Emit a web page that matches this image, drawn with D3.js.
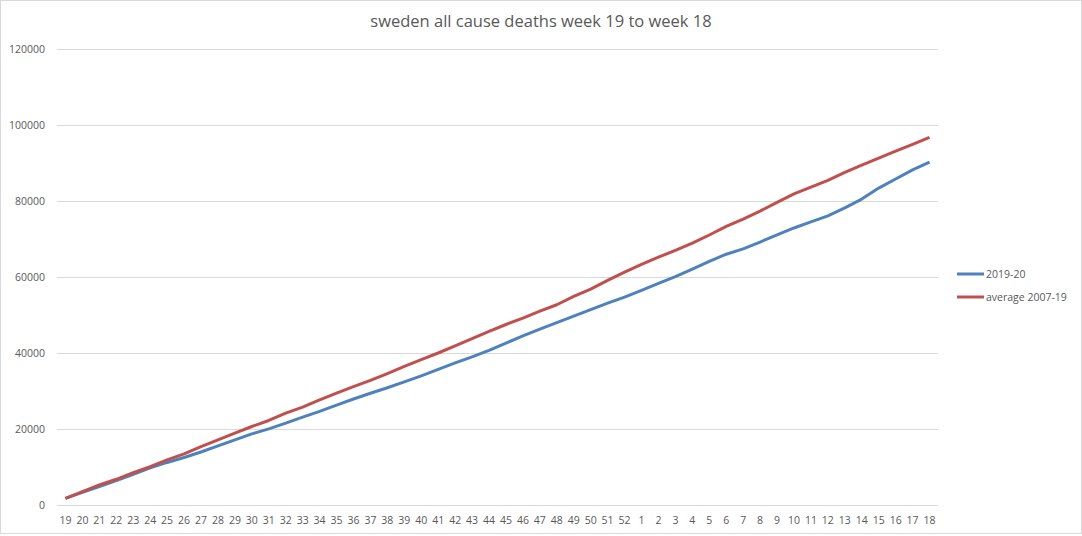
<!DOCTYPE html>
<html>
<head>
<meta charset="utf-8">
<script src="https://cdn.jsdelivr.net/npm/d3@7"></script>
<style>
  body { margin: 0; background: #fff; }
  text { font-family: "Open Sans", "Noto Sans", sans-serif; fill: #595959; }
</style>
</head>
<body>
<script>
// weeks 19..52 then 1..18
const weeks = ["19","20","21","22","23","24","25","26","27","28","29","30","31","32","33","34","35","36","37","38","39","40","41","42","43","44","45","46","47","48","49","50","51","52","1","2","3","4","5","6","7","8","9","10","11","12","13","14","15","16","17","18"];

// cumulative deaths 2019-20
const deaths2019 = [1760,3340,4840,6420,8090,9760,11200,12500,13950,15560,17140,18730,20040,21540,23120,24620,26290,27900,29400,30850,32400,34000,35700,37400,39000,40700,42600,44500,46300,48000,49700,51400,53100,54700,56500,58300,60100,62100,64100,66000,67400,69200,71100,72900,74500,76100,78200,80500,83400,85800,88200,90250];

// cumulative deaths, average 2007-19
const deathsAvg = [1760,3520,5270,6770,8530,10110,11870,13450,15380,17140,18900,20660,22240,24180,25760,27690,29450,31150,32800,34600,36500,38250,40000,41900,43800,45700,47500,49200,51000,52700,54900,56800,59100,61300,63300,65200,67000,68900,71050,73300,75250,77350,79650,81850,83650,85450,87550,89450,91300,93150,94900,96750];

const yTicks = [0, 20000, 40000, 60000, 80000, 100000, 120000];

const width = 1082, height = 536;
const margin = {left: 57, right: 144, top: 49, bottom: 31};

const svg = d3.select("body").append("svg")
    .attr("width", width)
    .attr("height", height);

// chart border
svg.append("rect")
    .attr("x", 0.5).attr("y", 0.5)
    .attr("width", width - 1).attr("height", height - 3)
    .attr("fill", "none").attr("stroke", "#d9d9d9");

const x = d3.scaleBand().domain(weeks).range([margin.left, width - margin.right]);
const y = d3.scaleLinear().domain([0, 120000]).range([height - margin.bottom, margin.top]);

// gridlines
svg.append("g")
    .selectAll("line")
    .data(yTicks)
    .enter()
    .append("line")
    .attr("x1", margin.left).attr("x2", width - margin.right)
    .attr("y1", d => Math.round(y(d)) + 0.5).attr("y2", d => Math.round(y(d)) + 0.5)
    .attr("stroke", "#d9d9d9");

// y axis labels
svg.append("g")
    .selectAll("text")
    .data(yTicks)
    .enter()
    .append("text")
    .attr("x", 45).attr("y", d => y(d) + 4)
    .attr("text-anchor", "end")
    .style("font-size", "10.5px")
    .text(d => d);

// x axis labels
svg.append("g")
    .selectAll("text")
    .data(weeks)
    .enter()
    .append("text")
    .attr("x", d => x(d) + x.bandwidth() / 2)
    .attr("y", 524)
    .attr("text-anchor", "middle")
    .style("font-size", "10.5px")
    .text(d => d);

const line = d3.line()
    .x((d, i) => x(weeks[i]) + x.bandwidth() / 2)
    .y(d => y(d));

const series = [
    {name: "2019-20", values: deaths2019, color: "#4f81bd"},
    {name: "average 2007-19", values: deathsAvg, color: "#c0504d"}
];

svg.append("g")
    .selectAll("path")
    .data(series)
    .enter()
    .append("path")
    .attr("d", d => line(d.values))
    .attr("fill", "none")
    .attr("stroke", d => d.color)
    .attr("stroke-width", 3)
    .attr("stroke-linejoin", "round");

// title
svg.append("text")
    .attr("x", 541).attr("y", 27)
    .attr("text-anchor", "middle")
    .style("font-size", "16.5px")
    .text("sweden all cause deaths week 19 to week 18");

// legend
const legend = svg.append("g")
    .selectAll("g")
    .data(series)
    .enter()
    .append("g")
    .attr("transform", (d, i) => `translate(957, ${274 + i * 23})`);

legend.append("line")
    .attr("x1", 0).attr("x2", 27)
    .attr("stroke", d => d.color)
    .attr("stroke-width", 3);

legend.append("text")
    .attr("x", 29).attr("y", 4)
    .style("font-size", "10.5px")
    .text(d => d.name);
</script>
</body>
</html>
